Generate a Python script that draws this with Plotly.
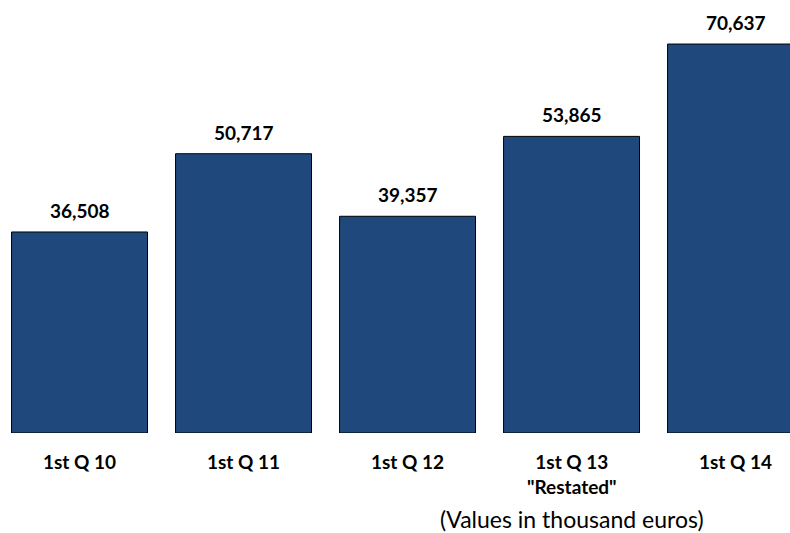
import plotly.graph_objects as go

# Quarterly figures (thousand euros)
categories = ["1st Q 10", "1st Q 11", "1st Q 12", "1st Q 13", "1st Q 14"]
category_labels = ["1st Q 10", "1st Q 11", "1st Q 12", "1st Q 13<br>\"Restated\"", "1st Q 14"]
values = [36508, 50717, 39357, 53865, 70637]
value_labels = ["36,508", "50,717", "39,357", "53,865", "70,637"]
note = "(Values in thousand euros)"

BAR_COLOR = "#1f497d"
FONT = "Lato"

fig = go.Figure(
    go.Bar(
        x=categories,
        y=values,
        marker=dict(color=BAR_COLOR, line=dict(color="#000000", width=1)),
        hoverinfo="skip",
    )
)

annotations = []
# value labels above each bar
for cat, val, lab in zip(categories, values, value_labels):
    annotations.append(dict(
        x=cat, y=val, xref="x", yref="y", text=f"<b>{lab}</b>",
        showarrow=False, yanchor="bottom", yshift=8,
        font=dict(family=FONT, size=19, color="#000000"),
    ))
# category labels below the baseline
for cat, lab in zip(categories, category_labels):
    annotations.append(dict(
        x=cat, y=0, xref="x", yref="y", text=f"<b>{lab}</b>",
        showarrow=False, yanchor="top", yshift=-15,
        font=dict(family=FONT, size=19, color="#000000"),
    ))
# units note
annotations.append(dict(
    x=categories[3], y=0, xref="x", yref="y", text=note,
    showarrow=False, yanchor="middle", yshift=-86,
    font=dict(family=FONT, size=23, color="#000000"),
))

fig.update_layout(
    width=790, height=533,
    margin=dict(l=0, r=0, t=0, b=100),
    paper_bgcolor="white", plot_bgcolor="white",
    bargap=0.171,
    showlegend=False,
    xaxis=dict(range=[-0.485, 4.332], showticklabels=False, showgrid=False,
               zeroline=False, showline=False, ticks=""),
    yaxis=dict(range=[0, 78634], visible=False, showgrid=False, zeroline=False),
    annotations=annotations,
)

fig.write_html("out.html")
